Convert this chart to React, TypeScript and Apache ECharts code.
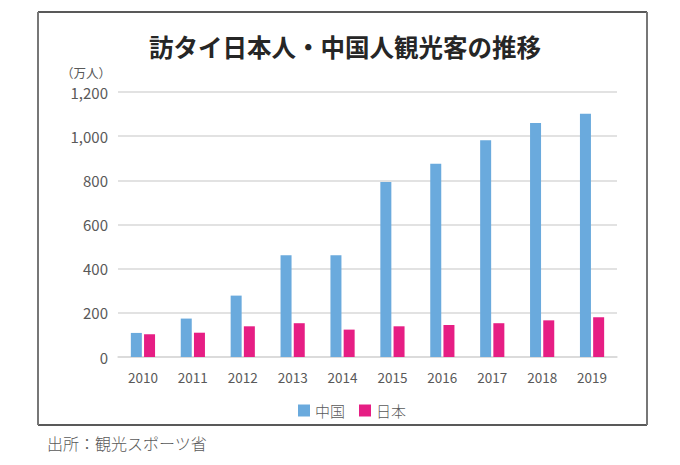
import React, { useEffect, useRef } from "react";
import * as echarts from "echarts";

const categories = ["2010", "2011", "2012", "2013", "2014", "2015", "2016", "2017", "2018", "2019"];
const chinaValues = [109, 174, 278, 461, 461, 792, 875, 981, 1060, 1102];
const japanValues = [103, 110, 139, 153, 124, 139, 145, 153, 166, 180];
const seriesNames = ["中国", "日本"];
const titleText = "訪タイ日本人・中国人観光客の推移";
const unitText = "（万人）";
const sourceText = "出所：観光スポーツ省";

const FONT = '"Noto Sans CJK JP", "Noto Sans", sans-serif';

export default function App() {
  const ref = useRef<HTMLDivElement>(null);
  useEffect(() => {
    if (!ref.current) return;
    const chart = echarts.init(ref.current, null, { renderer: "svg" });
    chart.setOption({
      animation: false,
      backgroundColor: "#ffffff",
      textStyle: { fontFamily: FONT },
      grid: { left: 118, right: 63, top: 92, bottom: 108, containLabel: false },
      legend: {
        data: seriesNames,
        left: 293,
        top: 398,
        icon: "rect",
        itemWidth: 12,
        itemHeight: 12,
        itemGap: 14,
        textStyle: { fontSize: 15, color: "#595959", fontFamily: FONT, fontWeight: 300 },
      },
      xAxis: {
        type: "category",
        data: categories,
        axisLine: { show: true, lineStyle: { color: "#d9d9d9", width: 1.5 } },
        axisTick: { show: false },
        axisLabel: { fontSize: 13.5, color: "#595959", margin: 13, fontFamily: FONT },
      },
      yAxis: {
        type: "value",
        min: 0,
        max: 1200,
        interval: 200,
        axisLine: { show: false },
        axisTick: { show: false },
        splitLine: { lineStyle: { color: "#d9d9d9", width: 1.5 } },
        axisLabel: {
          fontSize: 15,
          color: "#595959",
          margin: 10,
          fontFamily: FONT,
          formatter: (v: number) => v.toLocaleString("en-US"),
        },
      },
      series: [
        {
          name: seriesNames[0],
          type: "bar",
          data: chinaValues,
          barWidth: 11,
          barGap: "20%",
          itemStyle: { color: "#6aaadd" },
        },
        {
          name: seriesNames[1],
          type: "bar",
          data: japanValues,
          barWidth: 11,
          barGap: "20%",
          itemStyle: { color: "#e61e84" },
        },
      ],
      graphic: [
        {
          type: "line",
          shape: { x1: 38, y1: 12, x2: 647, y2: 12 },
          style: { stroke: "#222", lineWidth: 1.5 },
        },
        {
          type: "line",
          shape: { x1: 38, y1: 425, x2: 647, y2: 425 },
          style: { stroke: "#222", lineWidth: 1.5 },
        },
        {
          type: "line",
          shape: { x1: 38, y1: 12, x2: 38, y2: 425 },
          style: { stroke: "#777", lineWidth: 2 },
        },
        {
          type: "line",
          shape: { x1: 647, y1: 12, x2: 647, y2: 425 },
          style: { stroke: "#777", lineWidth: 2 },
        },
        {
          type: "text",
          x: 345,
          y: 46,
          style: {
            text: titleText,
            fontSize: 24.5,
            fontWeight: "bold",
            fill: "#262626",
            fontFamily: FONT,
            align: "center",
            verticalAlign: "middle",
          },
        },
        {
          type: "text",
          x: 111,
          y: 72,
          style: {
            text: unitText,
            fontSize: 12.5,
            fill: "#595959",
            fontFamily: FONT,
            align: "right",
            verticalAlign: "middle",
          },
        },
        {
          type: "text",
          x: 47,
          y: 443,
          style: {
            text: sourceText,
            fontSize: 16,
            fill: "#595959",
            fontFamily: FONT,
            fontWeight: 300,
            align: "left",
            verticalAlign: "middle",
          },
        },
      ],
    });
    return () => chart.dispose();
  }, []);
  return (
    <div
      ref={ref}
      style={{ position: "absolute", left: 0, top: 0, width: 680, height: 465 }}
    />
  );
}
